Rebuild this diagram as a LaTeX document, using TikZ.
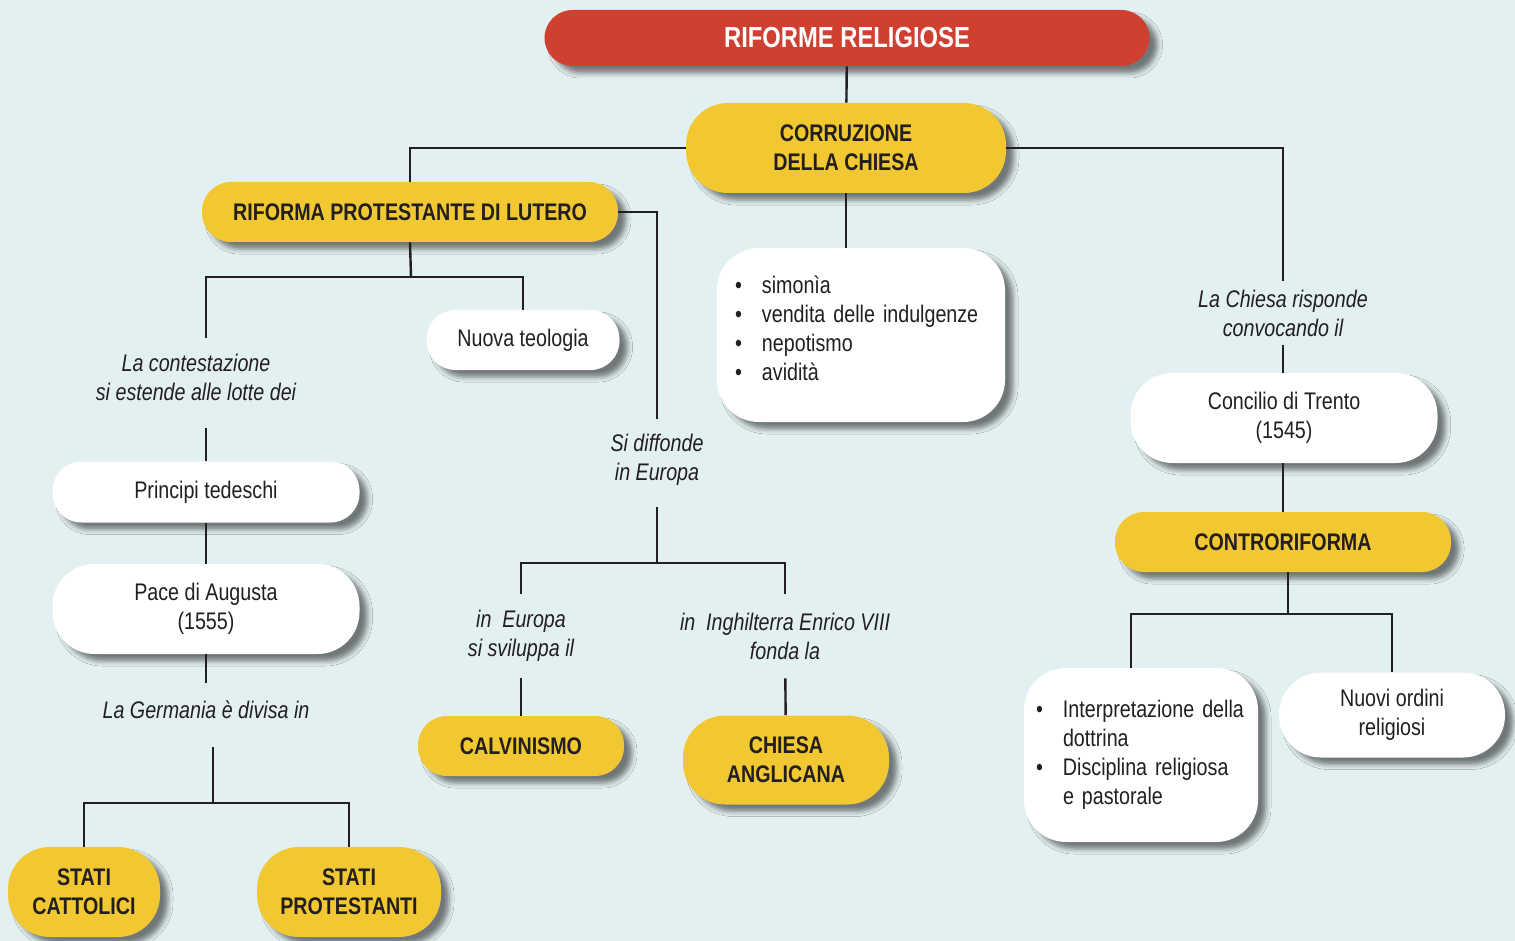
\documentclass[tikz,border=0pt]{standalone}
\usepackage{fontspec}
\setmainfont{Liberation Sans}[FakeStretch=0.82]
\usetikzlibrary{shadows.blur}

\definecolor{sfondo}{HTML}{E3F0F2}
\definecolor{rosso}{HTML}{D04030}
\definecolor{giallo}{HTML}{F2C832}
\definecolor{testo}{HTML}{231F20}

\newcommand{\corpo}{\fontsize{12}{14.5}\selectfont}
\newcommand{\punto}{\makebox[13.5pt][l]{\textbullet}}

\tikzset{
  box/.style={rounded corners=21pt, inner sep=0pt, align=center, text=testo,
    font=\corpo,
    blur shadow={shadow xshift=4pt, shadow yshift=-3.5pt,
      shadow blur radius=2.5pt, shadow opacity=50}},
  giallo/.style={box, fill=giallo, font=\corpo\bfseries},
  bianco/.style={box, fill=white},
  basso/.style={rounded corners=14.5pt},
  lbl/.style={align=center, inner sep=0pt, text=testo, font=\corpo\itshape},
  linea/.style={draw=testo, line width=1.2pt},
}

\begin{document}
\begin{tikzpicture}[x=0.5pt, y=-0.5pt]
% Sfondo e dimensioni del disegno
\useasboundingbox (0,0) rectangle (1515,941);
\fill[sfondo] (0,0) rectangle (1515,941);

% Titolo
\node[box, fill=rosso, text=white, font=\fontsize{14.5}{17}\selectfont\bfseries,
  minimum width=302.5pt, minimum height=28pt, rounded corners=14pt] (rif) at (847,38) {RIFORME RELIGIOSE};

% Corruzione della Chiesa e cause
\node[giallo, minimum width=160pt, minimum height=45pt] (corr) at (846,148) {CORRUZIONE\\DELLA CHIESA};
\node[bianco, minimum height=87pt, text width=126pt, inner xsep=9pt, align=left] (mali) at (861,335)
  {\punto simonìa\\ \punto vendita delle indulgenze\\ \punto nepotismo\\ \punto avidità\\[-7.5pt]\mbox{}};

% Ramo di Lutero
\node[giallo, basso, minimum width=208pt, minimum height=30pt] (lut) at (410,212) {RIFORMA PROTESTANTE DI LUTERO};
\node[bianco, basso, minimum width=96.5pt, minimum height=30pt] (teol) at (523,340) {Nuova teologia};
\node[lbl, minimum height=45pt] (contest) at (196,383) {La contestazione\\si estende alle lotte dei\\[-9pt]\mbox{}};
\node[bianco, basso, minimum width=153.5pt, minimum height=30.5pt] (princ) at (206,492) {Principi tedeschi};
\node[bianco, minimum width=153.5pt, minimum height=45pt] (pace) at (206,609) {Pace di Augusta\\(1555)};
\node[lbl, minimum height=32pt] (germ) at (206,715) {La Germania è divisa in\\[-9pt]\mbox{}};
\node[giallo, minimum width=76pt, minimum height=45pt] (catt) at (84,892) {STATI\\CATTOLICI};
\node[giallo, minimum width=92pt, minimum height=45pt] (prot) at (349,892) {STATI\\PROTESTANTI};

% Diffusione in Europa
\node[lbl, minimum height=43.5pt] (diff) at (657,463) {Si diffonde\\in Europa\\[-9pt]\mbox{}};
\node[lbl, minimum height=42pt] (eur) at (521,636) {in~~Europa\\si sviluppa il};
\node[lbl, minimum height=42pt] (ingh) at (785,636) {in~~Inghilterra Enrico VIII\\fonda la};
\node[giallo, basso, minimum width=103pt, minimum height=30pt] (calv) at (521,746) {CALVINISMO};
\node[giallo, minimum width=103pt, minimum height=44.5pt] (angl) at (786,760) {CHIESA\\ANGLICANA};

% Risposta della Chiesa
\node[lbl, minimum height=31.5pt] (chiesa) at (1283,313) {La Chiesa risponde\\convocando il};
\node[bianco, minimum width=153.5pt, minimum height=45pt] (conc) at (1284,418) {Concilio di Trento\\(1545)};
\node[giallo, basso, minimum width=168pt, minimum height=30pt] (contr) at (1283,542) {CONTRORIFORMA};
\node[bianco, minimum height=87pt, text width=105pt, inner xsep=6pt, align=left] (interp) at (1141,755)
  {\begin{tabular}{@{}l@{}l@{}}\punto&Interpretazione della\\&dottrina\\ \punto&Disciplina religiosa\\&e pastorale\end{tabular}};
\node[bianco, minimum width=113pt, minimum height=42.5pt] (nuovi) at (1392,715) {Nuovi ordini\\religiosi};

% Snodi dei collegamenti
\coordinate (sn1) at (411,277);
\coordinate (sn2) at (213,803);
\coordinate (sn3) at (658,563);
\coordinate (sn4) at (1288,614);

% Collegamenti
\draw[linea] (rif) -- (corr);
\draw[linea] (corr.west) -| (lut.north);
\draw[linea] (corr.east) -| (chiesa.north);
\draw[linea] (corr.south) -- (corr.south |- mali.north);
\draw[linea] (lut.south) -- (sn1);
\draw[linea] (contest.north -| princ) |- (sn1) -| (teol.north);
\draw[linea] (lut.east) -| (diff.north);
\draw[linea] (contest.south -| princ) -- (princ.north);
\draw[linea] (princ) -- (pace);
\draw[linea] (pace.south) -- (germ.north -| pace.south);
\draw[linea] (germ.south -| sn2) -- (sn2);
\draw[linea] (catt.north) |- (sn2) -| (prot.north);
\draw[linea] (diff.south) -- (diff.south |- sn3);
\draw[linea] (eur.north) |- (sn3) -| (ingh.north);
\draw[linea] (eur) -- (calv);
\draw[linea] (ingh) -- (angl);
\draw[linea] (chiesa) -- (chiesa |- conc.north);
\draw[linea] (conc.south -| chiesa) -- (contr.north -| chiesa);
\draw[linea] (contr.south -| sn4) -- (sn4);
\draw[linea] ([xshift=-5pt]interp.north) |- (sn4) -| (nuovi.north);

\end{tikzpicture}
\end{document}
